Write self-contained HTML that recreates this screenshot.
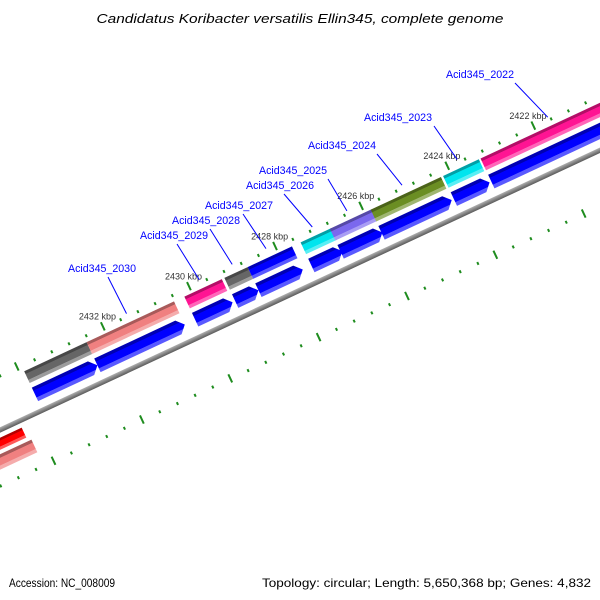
<!DOCTYPE html>
<html><head><meta charset="utf-8"><style>
html,body{margin:0;padding:0;background:#fff}
svg{display:block}
text{font-family:"Liberation Sans","DejaVu Sans",sans-serif}
</style></head><body>
<svg id="chart" width="600" height="600" viewBox="0 0 600 600" xmlns="http://www.w3.org/2000/svg">
<defs id="defs"></defs>
<text x="300" y="23" text-anchor="middle" font-size="13" font-style="italic" fill="#000" textLength="407" lengthAdjust="spacingAndGlyphs">Candidatus Koribacter versatilis Ellin345, complete genome</text>
<g id="track" transform="translate(0,430) rotate(-25)"></g>
<g id="labels"></g>
<text x="9" y="587" font-size="12" fill="#000" textLength="106" lengthAdjust="spacingAndGlyphs">Accession: NC_008009</text>
<text x="591" y="587" font-size="12" text-anchor="end" fill="#000" textLength="329" lengthAdjust="spacingAndGlyphs">Topology: circular; Length: 5,650,368 bp; Genes: 4,832</text>
</svg>
<script>
// ---- data ----
var geneStartKbp = [2433.90, 2432.45, 2430.18, 2429.25, 2428.71, 2427.48, 2426.80, 2425.85, 2424.17, 2423.30];
var geneEndKbp   = [2432.45, 2430.42, 2429.31, 2428.71, 2427.68, 2426.76, 2425.83, 2424.22, 2423.34, 2420.00];
var geneCogColor = ['#666666','#f08080','#ff1493','#666666','#0000ff','#00e5ee','#7b68ee','#6b8e23','#00e5ee','#ff1493'];
var geneNames    = ['', 'Acid345_2030','Acid345_2029','Acid345_2028','Acid345_2027','Acid345_2026','Acid345_2025','Acid345_2024','Acid345_2023','Acid345_2022'];
var revStartKbp  = [2436.5, 2436.5];
var revEndKbp    = [2434.45, 2434.37];
var revColors    = ['#ff0000','#f08080'];
var tickLabels   = [2434, 2432, 2430, 2428, 2426, 2424, 2422, 2420];
var labeledTicks = [2432, 2430, 2428, 2426, 2424, 2422];
// ---- layout (not data) ----
var labelTextPos = [null,[68,272],[140,239],[172,224],[205,209],[246,189],[259,174],[308,149],[364,121],[446,78]];
var labelLineDx  = [0,40,37,38,38,38,69,69,70,69];

var NS='http://www.w3.org/2000/svg';
var track=document.getElementById('track');
var labels=document.getElementById('labels');
var defs=document.getElementById('defs');
var COS=Math.cos(25*Math.PI/180), SIN=Math.sin(25*Math.PI/180);
function uScale(k){return 137+(2432-k)*47.5;}
function uScaleLow(k){return 133+(2432-k)*48.75;}
function toScreen(u,v){return [u*COS+v*SIN, 430-u*SIN+v*COS];}
function mk(tag,attrs,parent){var e=document.createElementNS(NS,tag);for(var k in attrs)e.setAttribute(k,attrs[k]);(parent||track).appendChild(e);return e;}
function shade(hex,f){var r=parseInt(hex.substr(1,2),16),g=parseInt(hex.substr(3,2),16),b=parseInt(hex.substr(5,2),16);
 function c(x){x=f<0?x*(1+f):x+(255-x)*f;return Math.max(0,Math.min(255,Math.round(x)));}
 return 'rgb('+c(r)+','+c(g)+','+c(b)+')';}
var gradCache={};
function grad(hex){if(gradCache[hex])return gradCache[hex];var id='g'+hex.substr(1);
 var g=mk('linearGradient',{id:id,x1:0,y1:0,x2:0,y2:1},defs);
 [[0,shade(hex,-0.3)],[0.22,shade(hex,-0.3)],[0.24,hex],[0.72,hex],[0.74,shade(hex,0.35)],[1,shade(hex,0.35)]].forEach(function(s){mk('stop',{offset:s[0],'stop-color':s[1]},g);});
 gradCache[hex]='url(#'+id+')';return gradCache[hex];}

// backbone
var bbg=mk('linearGradient',{id:'bb',x1:0,y1:0,x2:0,y2:1},defs);
mk('stop',{offset:0,'stop-color':'#b0b0b0'},bbg);mk('stop',{offset:1,'stop-color':'#5a5a5a'},bbg);
var bb=mk('rect',{x:-200,y:-2.5,width:1100,height:5,fill:'url(#bb)'});



// ticks
for(var k=2436;k>=2418;k=Math.round((k-0.4)*10)/10){
  var big=Math.abs(k/2-Math.round(k/2))<1e-6;
  var u=uScale(k);
  var t=mk('rect',{x:u-1,y:big?-55:-50.5,width:2,height:big?9:3,fill:'#1e8c1e'});
  
  
  var ul=uScaleLow(k);
  var t2=mk('rect',{x:ul-1,y:big?46:49.5,width:2,height:big?9:3,fill:'#1e8c1e'});
  
  
}
labeledTicks.forEach(function(k){
  var p=toScreen(uScale(k),-49);
  var tx=mk('text',{x:p[0]-6,y:p[1]-8,'font-size':9,'text-anchor':'middle',fill:'#333'},labels);
  tx.textContent=k+' kbp';
  
  
});

// genes
for(var i=0;i<geneStartKbp.length;i++){
  var u1=uScale(geneStartKbp[i]), u2=uScale(geneEndKbp[i]);
  var r=mk('rect',{x:u1,y:-43,width:u2-u1,height:13,fill:grad(geneCogColor[i])});
  
  
  var h=Math.min(7,(u2-u1)/2);
  var pts=[[u1,-25],[u2-h,-25],[u2,-17.5],[u2-h,-10],[u1,-10]].map(function(p){return p.join(',');}).join(' ');
  var a=mk('polygon',{points:pts,fill:grad('#0000ff')});
  
  
  if(geneNames[i]){
    var tp=labelTextPos[i];
    var end=toScreen((u1+u2)/2,-52);
    var ln=mk('line',{x1:tp[0]+labelLineDx[i],y1:tp[1]+5,x2:end[0],y2:end[1],stroke:'#0000ff','stroke-width':1},labels);
    
    
    var gt=mk('text',{x:tp[0],y:tp[1],'font-size':10.6,fill:'#0000ff',textLength:68,lengthAdjust:'spacingAndGlyphs'},labels);
    gt.textContent=geneNames[i];
    
    
  }
}
// reverse strand features
var revV=[[7,11],[22,14]];
for(var j=0;j<revStartKbp.length;j++){
  var a1=uScale(revStartKbp[j]), a2=uScale(revEndKbp[j]);
  var rr=mk('rect',{x:a1,y:revV[j][0],width:a2-a1,height:revV[j][1],fill:grad(revColors[j])});
  
  
}
</script>
</body></html>
